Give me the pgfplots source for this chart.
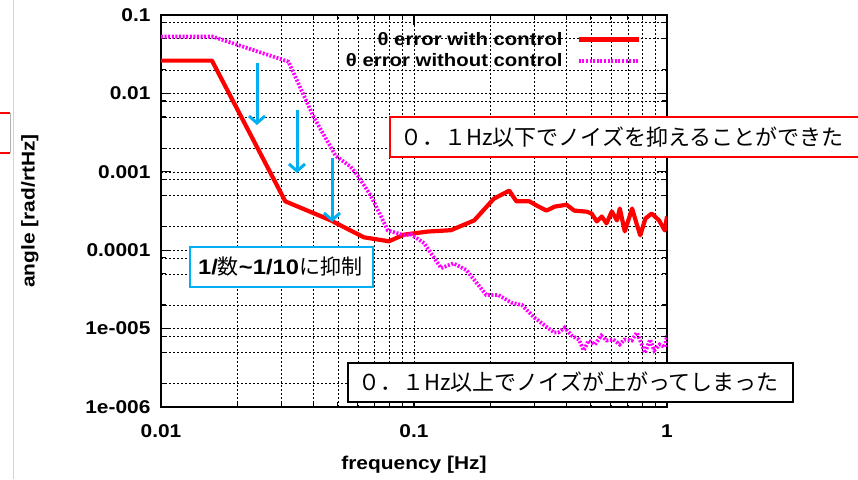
\documentclass[border=0pt]{standalone}
\usepackage{pgfplots}
\pgfplotsset{compat=1.18}
\usepackage{fontspec}
\setmainfont[FakeStretch=1.13]{Liberation Sans}
\newfontfamily\jp{Noto Sans CJK JP}
\usetikzlibrary{arrows.meta}
\definecolor{myred}{RGB}{255,0,0}
\definecolor{mymag}{RGB}{255,0,255}
\definecolor{myblue}{RGB}{0,176,240}
\definecolor{pinkline}{RGB}{246,196,206}

\pgfplotstableread{
f v
0.01 0.0262
0.0159 0.0262
0.031 4.2e-4
0.0469 2.4e-4
0.0634 1.46e-4
0.0796 1.3e-4
0.0914 1.58e-4
0.1136 1.73e-4
0.140 1.8e-4
0.173 2.4e-4
0.207 4.55e-4
0.238 5.75e-4
0.254 4.2e-4
0.286 4.2e-4
0.305 3.72e-4
0.334 3.2e-4
0.360 3.6e-4
0.401 3.8e-4
0.43 3.2e-4
0.482 3.1e-4
0.503 2.94e-4
0.528 2.33e-4
0.552 2.69e-4
0.577 2.2e-4
0.605 3.12e-4
0.634 2.4e-4
0.651 3.4e-4
0.681 1.74e-4
0.728 3.4e-4
0.762 2.07e-4
0.784 1.55e-4
0.822 2.54e-4
0.87 2.94e-4
0.93 2.4e-4
0.98 1.79e-4
1.0 2.69e-4
}\withctrl

\pgfplotstableread{
f v
0.01 0.053
0.016 0.053
0.0319 0.0254
0.040 5.1e-3
0.049 1.6e-3
0.0562 1.16e-3
0.060 8.9e-4
0.0675 4.97e-4
0.0788 1.79e-4
0.0914 1.55e-4
0.097 1.6e-4
0.1097 1.23e-4
0.128 5.9e-5
0.143 6.8e-5
0.161 5.6e-5
0.193 2.69e-5
0.215 2.69e-5
0.243 2.14e-5
0.267 2.0e-5
0.299 1.38e-5
0.358 8.9e-6
0.372 8.9e-6
0.394 1.03e-5
0.42 8.15e-6
0.448 7.26e-6
0.469 5.27e-6
0.49 7.05e-6
0.519 6.27e-6
0.55 8.15e-6
0.577 7.05e-6
0.614 7.26e-6
0.65 6.27e-6
0.68 7.26e-6
0.725 7.05e-6
0.76 8.9e-6
0.795 6.27e-6
0.818 4.9e-6
0.857 7.26e-6
0.89 5.27e-6
0.935 6.27e-6
0.98 5.8e-6
1.0 8.15e-6
}\withoutctrl

\begin{document}
\begin{tikzpicture}[x=1pt,y=1pt]
% left-edge slide artifacts
\draw[pinkline, line width=1pt] (13,0) -- (13,479);
\draw[myred, line width=2pt] (0,366) -- (10,366);
\draw[myred, line width=2pt] (0,326) -- (10,326);
\draw[gray!60, line width=0.6pt] (10,326) -- (10,366);

\begin{axis}[
  at={(161pt,72pt)}, anchor=south west,
  scale only axis, width=506pt, height=392pt,
  xmode=log, ymode=log,
  xmin=0.01, xmax=1, ymin=1e-6, ymax=0.1,
  axis line style={line width=1.8pt},
  xtick={0.01,0.1,1}, xticklabels={0.01,0.1,1},
  ytick={1e-6,1e-5,1e-4,1e-3,1e-2,1e-1},
  yticklabels={1e-006,1e-005,0.0001,0.001,0.01,0.1},
  minor xtick={0.02,0.03,0.04,0.05,0.06,0.07,0.08,0.09,0.2,0.3,0.4,0.5,0.6,0.7,0.8,0.9},
  minor ytick={2e-6,5e-6,8e-6,2e-5,5e-5,8e-5,2e-4,5e-4,8e-4,2e-3,5e-3,8e-3,2e-2,5e-2,8e-2},
  grid=both,
  major grid style={black, line width=0.6pt, dash pattern=on 2pt off 2pt},
  minor grid style={black, line width=0.6pt, dash pattern=on 2pt off 2pt},
  major tick length=10pt, minor tick length=5pt,
  tick style={black, line width=1.2pt},
  tick align=inside,
  tick label style={font=\fontsize{18.5}{20}\selectfont\bfseries},
  yticklabel style={xshift=-7pt},
  xticklabel style={yshift=-14pt},
  xlabel={frequency [Hz]},
  ylabel={angle [rad/rtHz]},
  label style={font=\fontsize{18.5}{20}\selectfont\bfseries},
  xlabel style={at={(axis description cs:0.5,0)}, anchor=center, yshift=-58pt},
  ylabel style={at={(axis description cs:0,0.5)}, anchor=center, yshift=131pt},
  legend plot pos=right,
  legend cell align=right,
  legend style={at={(1,1)}, anchor=north east, xshift=-25pt, yshift=-14pt,
    draw=none, fill=none, font=\fontsize{18}{20}\selectfont\bfseries,
    row sep=3pt, column sep=12pt, inner sep=1pt},
  legend image code/.code={\draw[#1] (0pt,0pt) -- (60pt,0pt);},
]
\addplot[myred, line width=4.2pt, line join=round] table[x=f,y=v] {\withctrl};
\addlegendentry{θ error with control}
\addplot[mymag, line width=3.8pt, dash pattern=on 2pt off 1.6pt] table[x=f,y=v] {\withoutctrl};
\addlegendentry{θ error without control}
\end{axis}

% arrows
\draw[myblue, line width=3pt, -{Straight Barb[length=7pt,width=16pt]}] (257,416) -- (257,354);
\draw[myblue, line width=3pt, -{Straight Barb[length=7pt,width=16pt]}] (297,369) -- (297,306);
\draw[myblue, line width=3pt, -{Straight Barb[length=7pt,width=16pt]}] (332,321) -- (332,257);

% annotation boxes
\draw[myred, line width=2.5pt, fill=white] (390,322) rectangle (875,362);
\node[anchor=west, inner sep=0pt] at (400,342) {\jp\fontsize{22}{26}\selectfont ０．１Hz以下でノイズを抑えることができた};

\draw[myblue, line width=2.5pt, fill=white] (190,192) rectangle (373,232);
\node[anchor=west, inner sep=0pt] at (198,212) {\fontsize{21}{24}\selectfont\bfseries 1/\jp\mdseries 数\rmfamily\bfseries\textasciitilde 1/10\jp\mdseries に抑制};

\draw[black, line width=2.5pt, fill=white] (348,77) rectangle (793,116);
\node[anchor=west, inner sep=0pt] at (358,96.5) {\jp\fontsize{22}{26}\selectfont ０．１Hz以上でノイズが上がってしまった};

\pgfresetboundingbox
\useasboundingbox (0,0) rectangle (858,479);
\end{tikzpicture}
\end{document}
